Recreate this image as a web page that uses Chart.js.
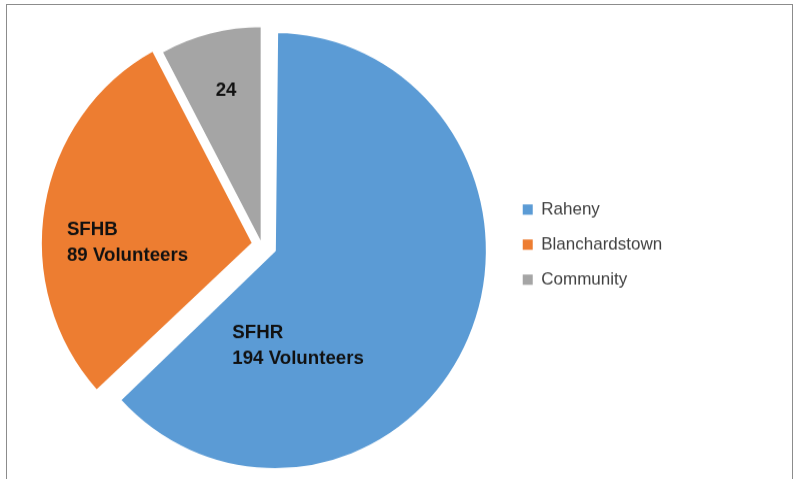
<!DOCTYPE html>
<html>
<head>
<meta charset="utf-8">
<script src="https://cdn.jsdelivr.net/npm/chart.js@4.4.1/dist/chart.umd.min.js"></script>
<style>
  html, body { margin: 0; padding: 0; background: #fff; overflow: hidden; }
  #frame { position: absolute; left: 6px; top: 4px; width: 787px; height: 520px; border: 1px solid #8c8c8c; box-sizing: border-box; }
  #volChart { position: absolute; left: 0; top: 0; transform: scaleY(1.031); transform-origin: 0 0; }
</style>
</head>
<body>
<div id="frame"></div>
<canvas id="volChart" width="798" height="480"></canvas>
<script>
var categories = ['Raheny', 'Blanchardstown', 'Community'];
var volunteers = [194, 89, 24];
var sliceTags = ['SFHR', 'SFHB', ''];
var sliceColors = ['#5B9BD5', '#ED7D31', '#A5A5A5'];

// Chart.js grows the radius of a pulled-out slice; keep all slices the same size
var evenRadius = {
  id: 'evenRadius',
  beforeDatasetsDraw: function(chart) {
    var meta = chart.getDatasetMeta(0);
    meta.data.forEach(function(arc) {
      var grow = (arc.options.offset || 0) / 4 * (1 - Math.sin(Math.min(Math.PI, arc.circumference)));
      arc.outerRadius = meta.controller.outerRadius - grow;
    });
  }
};

// writes the value labels inside each slice, placed around the pie centre
var sliceLabels = {
  id: 'sliceLabels',
  afterDatasetsDraw: function(chart, args, opts) {
    var ctx = chart.ctx;
    var meta = chart.getDatasetMeta(0);
    var r = meta.controller.outerRadius;
    ctx.save();
    ctx.fillStyle = opts.color;
    ctx.font = opts.font;
    ctx.textBaseline = 'middle';
    ctx.textAlign = 'left';
    meta.data.forEach(function(arc, i) {
      var p = arc.getProps(['x', 'y', 'startAngle', 'endAngle']);
      var a = (p.startAngle + p.endAngle) / 2 + opts.shift[i] * Math.PI / 180;
      var cx = p.x + Math.cos(a) * r * opts.dist[i];
      var cy = p.y + Math.sin(a) * r * opts.dist[i];
      var v = chart.data.datasets[0].data[i];
      var lines = sliceTags[i] ? [sliceTags[i], v + ' Volunteers'] : [String(v)];
      var w = Math.max.apply(null, lines.map(function(t) { return ctx.measureText(t).width; }));
      lines.forEach(function(t, k) {
        ctx.fillText(t, cx - w / 2, cy + (k - (lines.length - 1) / 2) * opts.lineHeight);
      });
    });
    ctx.restore();
  }
};

var baseLabels = Chart.overrides.doughnut.plugins.legend.labels.generateLabels;

new Chart(document.getElementById('volChart'), {
  type: 'pie',
  data: {
    labels: categories,
    datasets: [{
      data: volunteers,
      backgroundColor: sliceColors,
      borderColor: '#ffffff',
      borderWidth: 2,
      hoverBorderWidth: 2,
      offset: [57.6, 35.6, 0],
      hoverOffset: 0,
      radius: 212
    }]
  },
  options: {
    responsive: false,
    animation: false,
    events: [],
    layout: { padding: { left: 17.6, right: 125.8, top: 0, bottom: 5.6 } },
    plugins: {
      tooltip: { enabled: false },
      legend: {
        position: 'right',
        labels: {
          boxWidth: 10,
          boxHeight: 10,
          padding: 17,
          color: '#404040',
          font: { family: 'Liberation Sans', size: 17 },
          generateLabels: function(chart) {
            return baseLabels(chart).map(function(item) {
              item.lineWidth = 0;
              return item;
            });
          }
        }
      },
      sliceLabels: {
        color: '#111111',
        font: 'bold 18.7px "Liberation Sans"',
        lineHeight: 25,
        shift: [46, -8.7, 0.7],
        dist: [0.496, 0.633, 0.725]
      }
    }
  },
  plugins: [evenRadius, sliceLabels]
});
</script>
</body>
</html>
